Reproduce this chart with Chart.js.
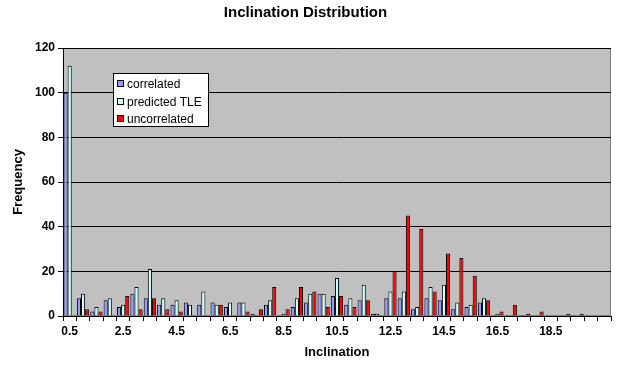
<!DOCTYPE html>
<html>
<head>
<meta charset="utf-8">
<script src="https://cdn.jsdelivr.net/npm/chart.js"></script>
<style>
  html, body { margin: 0; padding: 0; background: #fff; }
  #wrap { width: 618px; height: 369px; }
</style>
</head>
<body>
<div id="wrap"><canvas id="inclChart" width="618" height="369"></canvas></div>
<script>
// inclination bins (deg)
const inclinations = ['0.5', '1.0', '1.5', '2.0', '2.5', '3.0', '3.5', '4.0', '4.5', '5.0',
    '5.5', '6.0', '6.5', '7.0', '7.5', '8.0', '8.5', '9.0', '9.5', '10.0',
    '10.5', '11.0', '11.5', '12.0', '12.5', '13.0', '13.5', '14.0', '14.5', '15.0',
    '15.5', '16.0', '16.5', '17.0', '17.5', '18.0', '18.5', '19.0', '19.5', '20.0', '20.5'];

// only these get a label on the x axis
const xTickLabels = ['0.5', '2.5', '4.5', '6.5', '8.5', '10.5', '12.5', '14.5', '16.5', '18.5'];

const correlated = [100, 8, 2, 7, 4, 10, 8, 5, 5, 6,
    5, 6, 4, 6, 1, 5, 0, 4, 6, 10,
    9, 5, 7, 1, 8, 8, 3, 8, 7, 3,
    4, 6, 0, 0, 0, 0, 0, 0, 0, 0, 0];

const predictedTLE = [112, 10, 4, 8, 5, 13, 21, 8, 7, 5,
    11, 5, 6, 6, 0, 7, 1, 8, 10, 10,
    17, 8, 14, 1, 11, 11, 4, 13, 14, 6,
    5, 8, 1, 0, 0, 0, 0, 0, 0, 0, 0];

const uncorrelated = [0, 3, 2, 0, 9, 3, 8, 3, 2, 0,
    0, 5, 0, 2, 3, 13, 3, 13, 11, 4,
    9, 4, 7, 0, 20, 45, 39, 11, 28, 26,
    18, 7, 2, 5, 1, 2, 0, 1, 1, 0, 0];

const yMax = 120;
const yStep = 20;

const fontFamily = 'Arial, "Liberation Sans", sans-serif';

// grey plot area like the old excel charts
const plotBackground = {
    id: 'plotBackground',
    beforeDraw: function(chart) {
        const a = chart.chartArea;
        const ctx = chart.ctx;
        ctx.save();
        ctx.fillStyle = '#c0c0c0';
        ctx.fillRect(a.left, a.top, a.right - a.left, a.bottom - a.top);
        ctx.strokeStyle = '#808080';
        ctx.lineWidth = 1;
        ctx.strokeRect(a.left + 0.5, a.top + 0.5, a.right - a.left - 1, a.bottom - a.top - 1);
        ctx.restore();
    }
};

// legend box sitting inside the plot area
const boxLegend = {
    id: 'boxLegend',
    afterDraw: function(chart) {
        const a = chart.chartArea;
        const ctx = chart.ctx;
        const x = a.left + 50;
        const y = a.top + 25;
        ctx.save();
        ctx.fillStyle = '#fff';
        ctx.fillRect(x, y, 95, 53);
        ctx.strokeStyle = '#000';
        ctx.lineWidth = 1;
        ctx.strokeRect(x + 0.5, y + 0.5, 95, 53);
        ctx.font = '12px ' + fontFamily;
        ctx.textBaseline = 'middle';
        chart.data.datasets.forEach(function(ds, i) {
            const cy = Math.round(y + 11 + i * 17.5);
            ctx.fillStyle = ds.backgroundColor;
            ctx.fillRect(x + 4, cy - 4, 7, 7);
            ctx.strokeRect(x + 4.5, cy - 3.5, 6, 6);
            ctx.fillStyle = '#000';
            ctx.fillText(ds.label, x + 14, cy + 1);
        });
        ctx.restore();
    }
};

const chart = new Chart(document.getElementById('inclChart'), {
    type: 'bar',
    data: {
        labels: inclinations,
        datasets: [
            {
                label: 'correlated',
                data: correlated,
                backgroundColor: '#9999ff',
                borderColor: '#000',
                borderWidth: 1
            },
            {
                label: 'predicted TLE',
                data: predictedTLE,
                backgroundColor: '#ccffff',
                borderColor: '#000',
                borderWidth: 1
            },
            {
                label: 'uncorrelated',
                data: uncorrelated,
                backgroundColor: '#ff0000',
                borderColor: '#000',
                borderWidth: 1
            }
        ]
    },
    options: {
        responsive: false,
        animation: false,
        layout: { padding: { left: 0, right: 7, top: 0, bottom: 0 } },
        datasets: {
            bar: { categoryPercentage: 0.92, barPercentage: 1.0, borderSkipped: 'start' }
        },
        scales: {
            x: {
                grid: {
                    offset: true,
                    drawOnChartArea: false,
                    color: '#000',
                    tickLength: 5
                },
                border: { color: '#000', width: 1 },
                ticks: {
                    autoSkip: false,
                    maxRotation: 0,
                    padding: 3,
                    color: '#000',
                    font: { family: fontFamily, size: 12, weight: 'bold' },
                    callback: function(value, index) {
                        const lbl = inclinations[index];
                        return xTickLabels.includes(lbl) ? lbl : '';
                    }
                },
                title: {
                    display: true,
                    text: 'Inclination',
                    color: '#000',
                    font: { family: fontFamily, size: 13, weight: 'bold' },
                    padding: { top: 0, bottom: 9 }
                },
                afterFit: function(scale) { scale.height = 53; }
            },
            y: {
                min: 0,
                max: yMax,
                grid: {
                    color: '#000',
                    tickLength: 5
                },
                border: { color: '#000', width: 1 },
                ticks: {
                    stepSize: yStep,
                    padding: 3,
                    color: '#000',
                    font: { family: fontFamily, size: 12, weight: 'bold' }
                },
                title: {
                    display: true,
                    text: 'Frequency',
                    color: '#000',
                    font: { family: fontFamily, size: 13, weight: 'bold' },
                    padding: { top: 11, bottom: 0 }
                },
                afterFit: function(scale) { scale.width = 63; }
            }
        },
        plugins: {
            legend: { display: false },
            tooltip: { enabled: false },
            title: {
                display: true,
                text: 'Inclination Distribution',
                color: '#000',
                font: { family: fontFamily, size: 15, weight: 'bold' },
                padding: { top: 4, bottom: 26 }
            }
        }
    },
    plugins: [plotBackground, boxLegend]
});
</script>
</body>
</html>
